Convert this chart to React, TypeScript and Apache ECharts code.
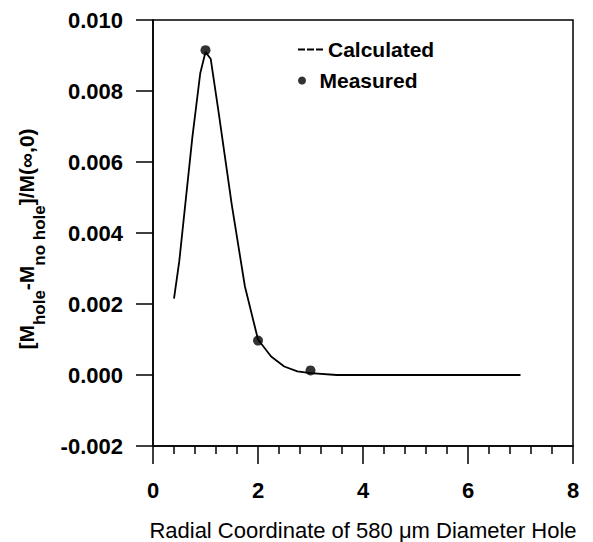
import React, { useEffect, useRef } from "react";
import * as echarts from "echarts";

const calcX = [0.4, 0.5, 0.75, 0.9, 1.0, 1.1, 1.25, 1.5, 1.75, 2.0, 2.25, 2.5, 2.75, 3.0, 3.5, 7.0];
const calcY = [0.00215, 0.0032, 0.0067, 0.0085, 0.0091, 0.0089, 0.0074, 0.0048, 0.0025, 0.001, 0.00052, 0.00024, 0.0001, 0.00005, 0.0, 0.0];
const measX = [1.0, 2.0, 3.0];
const measY = [0.00915, 0.00097, 0.00013];
const xTicks = [0, 2, 4, 6, 8];
const yTicks = [-0.002, 0.0, 0.002, 0.004, 0.006, 0.008, 0.01];

const FONT = "'Liberation Sans', Arial, Helvetica, sans-serif";

export default function App() {
  const ref = useRef<HTMLDivElement>(null);
  useEffect(() => {
    if (!ref.current) return;
    const chart = echarts.init(ref.current, null, { renderer: "svg" });
    const calcData = calcX.map((x, i) => [x, calcY[i]]);
    const measData = measX.map((x, i) => [x, measY[i]]);
    chart.setOption({
      animation: false,
      backgroundColor: "#fff",
      textStyle: { fontFamily: FONT, color: "#000" },
      grid: {
        left: 153,
        right: 20,
        top: 20,
        bottom: 96,
        containLabel: false,
        outerBoundsMode: "none",
        show: true,
        borderColor: "#000",
        borderWidth: 1.5,
      },
      legend: [
        {
          orient: "vertical",
          left: 298,
          top: 39,
          padding: 0,
          itemWidth: 25,
          itemHeight: 2,
          textStyle: { fontFamily: FONT, fontSize: 21, fontWeight: "bold", color: "#000" },
          data: [
            {
              name: "Calculated",
              icon: "path://M0,0h7v2h-7z M9,0h7v2h-7z M18,0h7v2h-7z",
              itemStyle: { color: "#000" },
            },
          ],
        },
        {
          orient: "vertical",
          left: 298,
          top: 70,
          padding: 0,
          itemWidth: 25,
          itemHeight: 8,
          textStyle: { fontFamily: FONT, fontSize: 21, fontWeight: "bold", color: "#000" },
          data: [{ name: "Measured", icon: "circle", itemStyle: { color: "#000" } }],
        },
      ],
      xAxis: {
        type: "value",
        min: xTicks[0],
        max: xTicks[xTicks.length - 1],
        interval: 2,
        name: "Radial Coordinate of 580 \u03bcm Diameter Hole",
        nameLocation: "middle",
        nameGap: 73,
        nameTextStyle: { fontFamily: FONT, fontSize: 22, color: "#000" },
        axisLine: { show: true, onZero: false, lineStyle: { color: "#000", width: 1.5 } },
        axisTick: { show: true, inside: false, length: 18, lineStyle: { color: "#000", width: 1.5 } },
        minorTick: { show: true, splitNumber: 5, length: 8, lineStyle: { color: "#000", width: 1.5 } },
        splitLine: { show: false },
        minorSplitLine: { show: false },
        axisLabel: {
          margin: 33,
          fontFamily: FONT,
          fontSize: 22,
          fontWeight: "bold",
          color: "#000",
          formatter: (v: number) => String(v),
        },
      },
      yAxis: {
        type: "value",
        min: yTicks[0],
        max: yTicks[yTicks.length - 1],
        interval: 0.002,
        name: "{m|[M}{s|hole}{m|-M}{s|no hole}{m|]/M(\u221e,0)}",
        nameLocation: "middle",
        nameRotate: 90,
        nameGap: 105,
        nameTextStyle: {
          fontFamily: FONT,
          color: "#000",
          padding: [0, 12, 0, 0],
          rich: {
            m: { fontFamily: FONT, fontSize: 21, fontWeight: "bold", color: "#000", verticalAlign: "top", lineHeight: 32 },
            s: {
              fontFamily: FONT,
              fontSize: 17,
              fontWeight: "bold",
              color: "#000",
              verticalAlign: "bottom",
              lineHeight: 17,
            },
          },
        },
        axisLine: { show: true, onZero: false, lineStyle: { color: "#000", width: 1.5 } },
        axisTick: { show: true, inside: false, length: 17, lineStyle: { color: "#000", width: 1.5 } },
        splitLine: { show: false },
        axisLabel: {
          margin: 30,
          fontFamily: FONT,
          fontSize: 22,
          fontWeight: "bold",
          color: "#000",
          formatter: (v: number) => v.toFixed(3),
        },
      },
      series: [
        {
          name: "Calculated",
          type: "line",
          data: calcData,
          showSymbol: false,
          symbol: "none",
          smooth: false,
          color: "#000",
          lineStyle: { color: "#000", width: 1.8 },
          z: 2,
        },
        {
          name: "Measured",
          type: "scatter",
          data: measData,
          symbol: "circle",
          symbolSize: 10,
          color: "#000",
          itemStyle: { color: "#000" },
          z: 3,
        },
      ],
    });
    return () => chart.dispose();
  }, []);
  return (
    <div
      ref={ref}
      style={{ position: "absolute", left: 0, top: 0, width: 593, height: 542, background: "#fff" }}
    />
  );
}
